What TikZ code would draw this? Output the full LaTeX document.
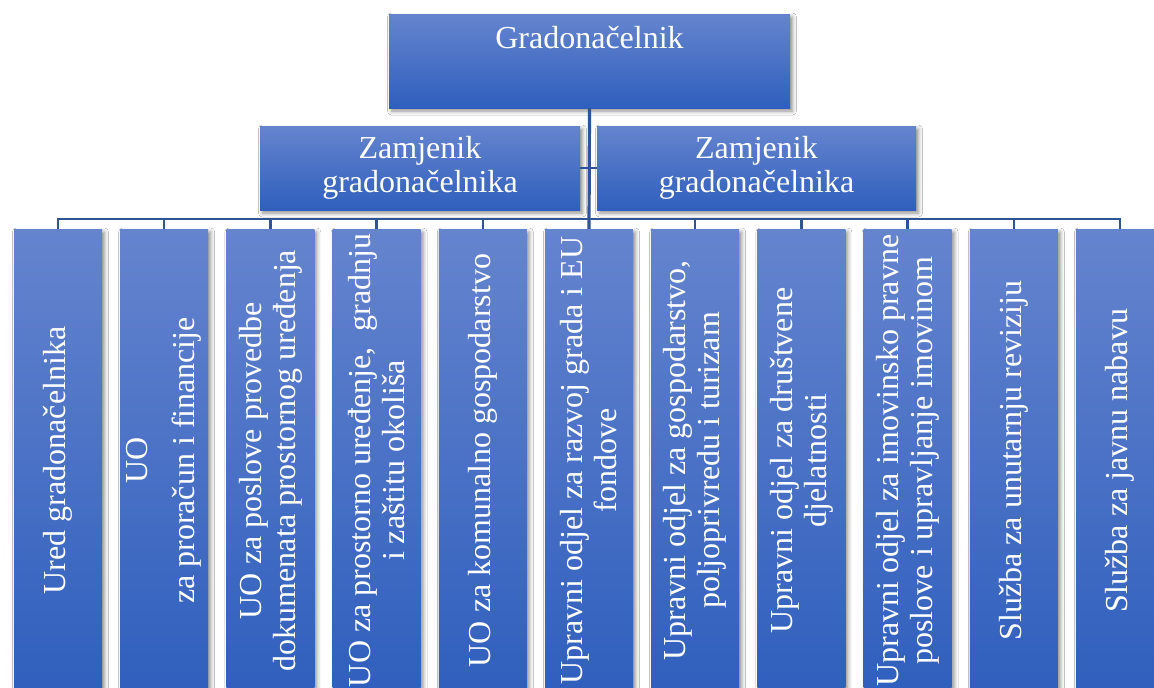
\documentclass[tikz,border=0pt]{standalone}
\usepackage{fontspec}
\setmainfont{Liberation Serif}
\usetikzlibrary{shadows.blur}
\definecolor{boxtop}{RGB}{101,132,206}
\definecolor{boxbot}{RGB}{47,95,189}
\definecolor{linecol}{RGB}{47,84,150}

\begin{document}
\begin{tikzpicture}[x=1pt, y=-1pt,
  box/.style={rectangle, top color=boxtop, bottom color=boxbot, draw=none, inner sep=0pt,
    blur shadow={shadow xshift=2.5pt, shadow yshift=-3pt, shadow blur radius=4pt, shadow opacity=45}},
  txt/.style={text=white, font=\fontsize{32}{34}\selectfont, align=center, inner sep=0pt},
  conn/.style={draw=linecol, line width=2.5pt}]
\clip (0,0) rectangle (1154,688);
\fill[white] (0,0) rectangle (1154,688);
% top
\node[box, minimum width=401, minimum height=94] (grad) at (589.5,61) {};
\node[txt, anchor=base] (gradtxt) at ([yshift=-35pt]grad.north) {Gradonačelnik};
% deputies
\node[box, minimum width=320, minimum height=84] (zam1) at (420,168) {};
\node[box, minimum width=319, minimum height=84] (zam2) at (756.5,168) {};
\node[txt] (zam1txt) at (zam1) {Zamjenik\\gradonačelnika};
\node[txt] (zam2txt) at (zam2) {Zamjenik\\gradonačelnika};
% departments
\foreach \i/\t in {1/{Ured gradonačelnika},
  2/{UO\\[13pt]za proračun i financije},
  3/{UO za poslove provedbe\\dokumenata prostornog uređenja},
  4/{UO za prostorno uređenje,\ \ gradnju\\i zaštitu okoliša},
  5/{UO za komunalno gospodarstvo},
  6/{Upravni odjel za razvoj grada i EU\\fondove},
  7/{Upravni odjel za gospodarstvo,\\poljoprivredu i turizam},
  8/{Upravni odjel za društvene\\djelatnosti},
  9/{Upravni odjel za imovinsko pravne\\poslove i upravljanje imovinom},
  10/{Služba za unutarnju reviziju},
  11/{Služba za javnu nabavu}}{
  \node[box, minimum width=88, minimum height=463] (odj\i) at ({58+106.2*(\i-1)},460.5) {};
  \node[txt, rotate=90] (odjtxt\i) at (odj\i) {\t};
}
% connectors
\coordinate (bus) at (589,219);
\draw[conn, line width=3.2pt] (grad.south) -- (odj6.north);
\draw[conn] (zam1.east) -- (zam2.west);
\foreach \i in {1,...,11}{\draw[conn] (bus) -| (odj\i.north);}

\end{tikzpicture}
\end{document}
